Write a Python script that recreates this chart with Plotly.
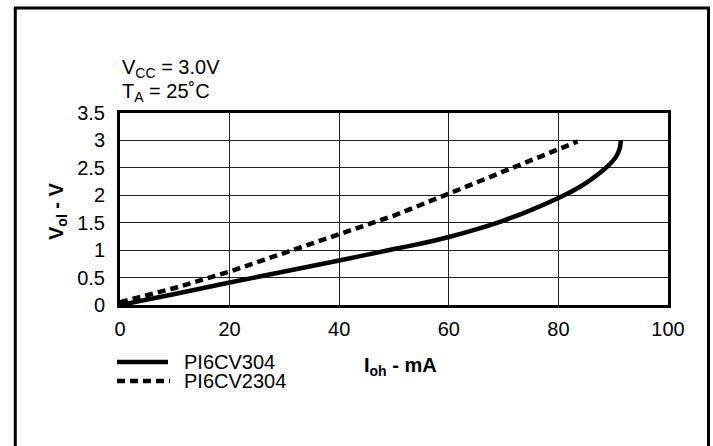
import plotly.graph_objects as go

# ---- data ----
pi6cv304_ma = [0, 10, 20, 30, 40, 50, 55, 60, 65, 70, 75, 80, 83, 86, 89, 90.5, 91.2, 91.4]
pi6cv304_v = [0, 0.2, 0.41, 0.61, 0.81, 1.02, 1.12, 1.24, 1.38, 1.54, 1.73, 1.95, 2.10, 2.29, 2.53, 2.70, 2.86, 3.0]

pi6cv2304_ma = [0, 10, 20, 30, 40, 50, 60, 70, 80, 83.5]
pi6cv2304_v = [0.05, 0.31, 0.61, 0.95, 1.27, 1.63, 2.03, 2.44, 2.85, 2.98]

x_ticks = [0, 20, 40, 60, 80, 100]
y_ticks = [0, 0.5, 1, 1.5, 2, 2.5, 3, 3.5]
y_tick_labels = ["0", "0.5", "1", "1.5", "2", "2.5", "3", "3.5"]
series_names = ["PI6CV304", "PI6CV2304"]

FONT = "Liberation Sans, Arial, Helvetica, sans-serif"
W, H = 713, 446
ML, MR, MT, MB = 120, 45, 113, 141
PW, PH = W - ML - MR, H - MT - MB


def px(x):
    return (x - ML) / PW


def py(y):
    return (H - MB - y) / PH


fig = go.Figure()
fig.add_trace(go.Scatter(x=pi6cv304_ma, y=pi6cv304_v, mode="lines", name=series_names[0],
                         line=dict(color="black", width=4.5, shape="spline", smoothing=0.5),
                         showlegend=False))
fig.add_trace(go.Scatter(x=pi6cv2304_ma, y=pi6cv2304_v, mode="lines", name=series_names[1],
                         line=dict(color="black", width=4.5, dash="8px,5px"),
                         showlegend=False))

shapes = [
    # outer frame
    dict(type="line", xref="paper", yref="paper", x0=px(15.3), x1=px(15.3), y0=py(470), y1=py(8),
         line=dict(color="black", width=3)),
    dict(type="line", xref="paper", yref="paper", x0=px(708.5), x1=px(708.5), y0=py(470), y1=py(8),
         line=dict(color="black", width=3)),
    dict(type="line", xref="paper", yref="paper", x0=px(13.8), x1=px(710), y0=py(8), y1=py(8),
         line=dict(color="black", width=3)),
    # legend samples
    dict(type="line", xref="paper", yref="paper", x0=px(117), x1=px(168), y0=py(362), y1=py(362),
         line=dict(color="black", width=4.5)),
    dict(type="line", xref="paper", yref="paper", x0=px(117), x1=px(170), y0=py(381), y1=py(381),
         line=dict(color="black", width=4.5, dash="8px,5px")),
]

annotations = [
    dict(text="V<sub>CC</sub> = 3.0V", x=px(120), y=py(69), xanchor="left", yanchor="middle"),
    dict(text="T<sub>A</sub> = 25˚C", x=px(120), y=py(93), xanchor="left", yanchor="middle"),
    dict(text=series_names[0], x=px(182), y=py(362), xanchor="left", yanchor="middle"),
    dict(text=series_names[1], x=px(182), y=py(381), xanchor="left", yanchor="middle"),
    dict(text="<b>I<sub>oh</sub> - mA</b>", x=px(400), y=py(366), xanchor="center", yanchor="middle"),
    dict(text="<b>V<sub>ol</sub> - V</b>", x=px(57), y=py(211), xanchor="center", yanchor="middle",
         textangle=-90),
]
for a in annotations:
    a.update(xref="paper", yref="paper", showarrow=False, font=dict(family=FONT, size=20, color="black"))

fig.update_layout(
    width=W, height=H,
    margin=dict(l=ML, r=MR, t=MT, b=MB, pad=0),
    paper_bgcolor="white", plot_bgcolor="white",
    font=dict(family=FONT, size=20, color="black"),
    shapes=shapes, annotations=annotations,
    showlegend=False,
)
fig.update_xaxes(range=[0, 100], tickvals=x_ticks, ticks="", ticklabelstandoff=4,
                 showgrid=True, gridcolor="#222", gridwidth=1.3, zeroline=False,
                 showline=True, linecolor="black", linewidth=3, mirror=True,
                 tickfont=dict(family=FONT, size=20))
fig.update_yaxes(range=[0, 3.5], tickvals=y_ticks, ticktext=y_tick_labels, ticks="", ticklabelstandoff=8,
                 showgrid=True, gridcolor="#222", gridwidth=1.3, zeroline=False,
                 showline=True, linecolor="black", linewidth=3, mirror=True,
                 tickfont=dict(family=FONT, size=20))

fig.write_html("out.html", config={"displayModeBar": False},
               post_script=("document.documentElement.style.margin='0';"
                            "document.documentElement.style.overflow='hidden';"
                            "document.body.style.margin='0';document.body.style.overflow='hidden';"))
